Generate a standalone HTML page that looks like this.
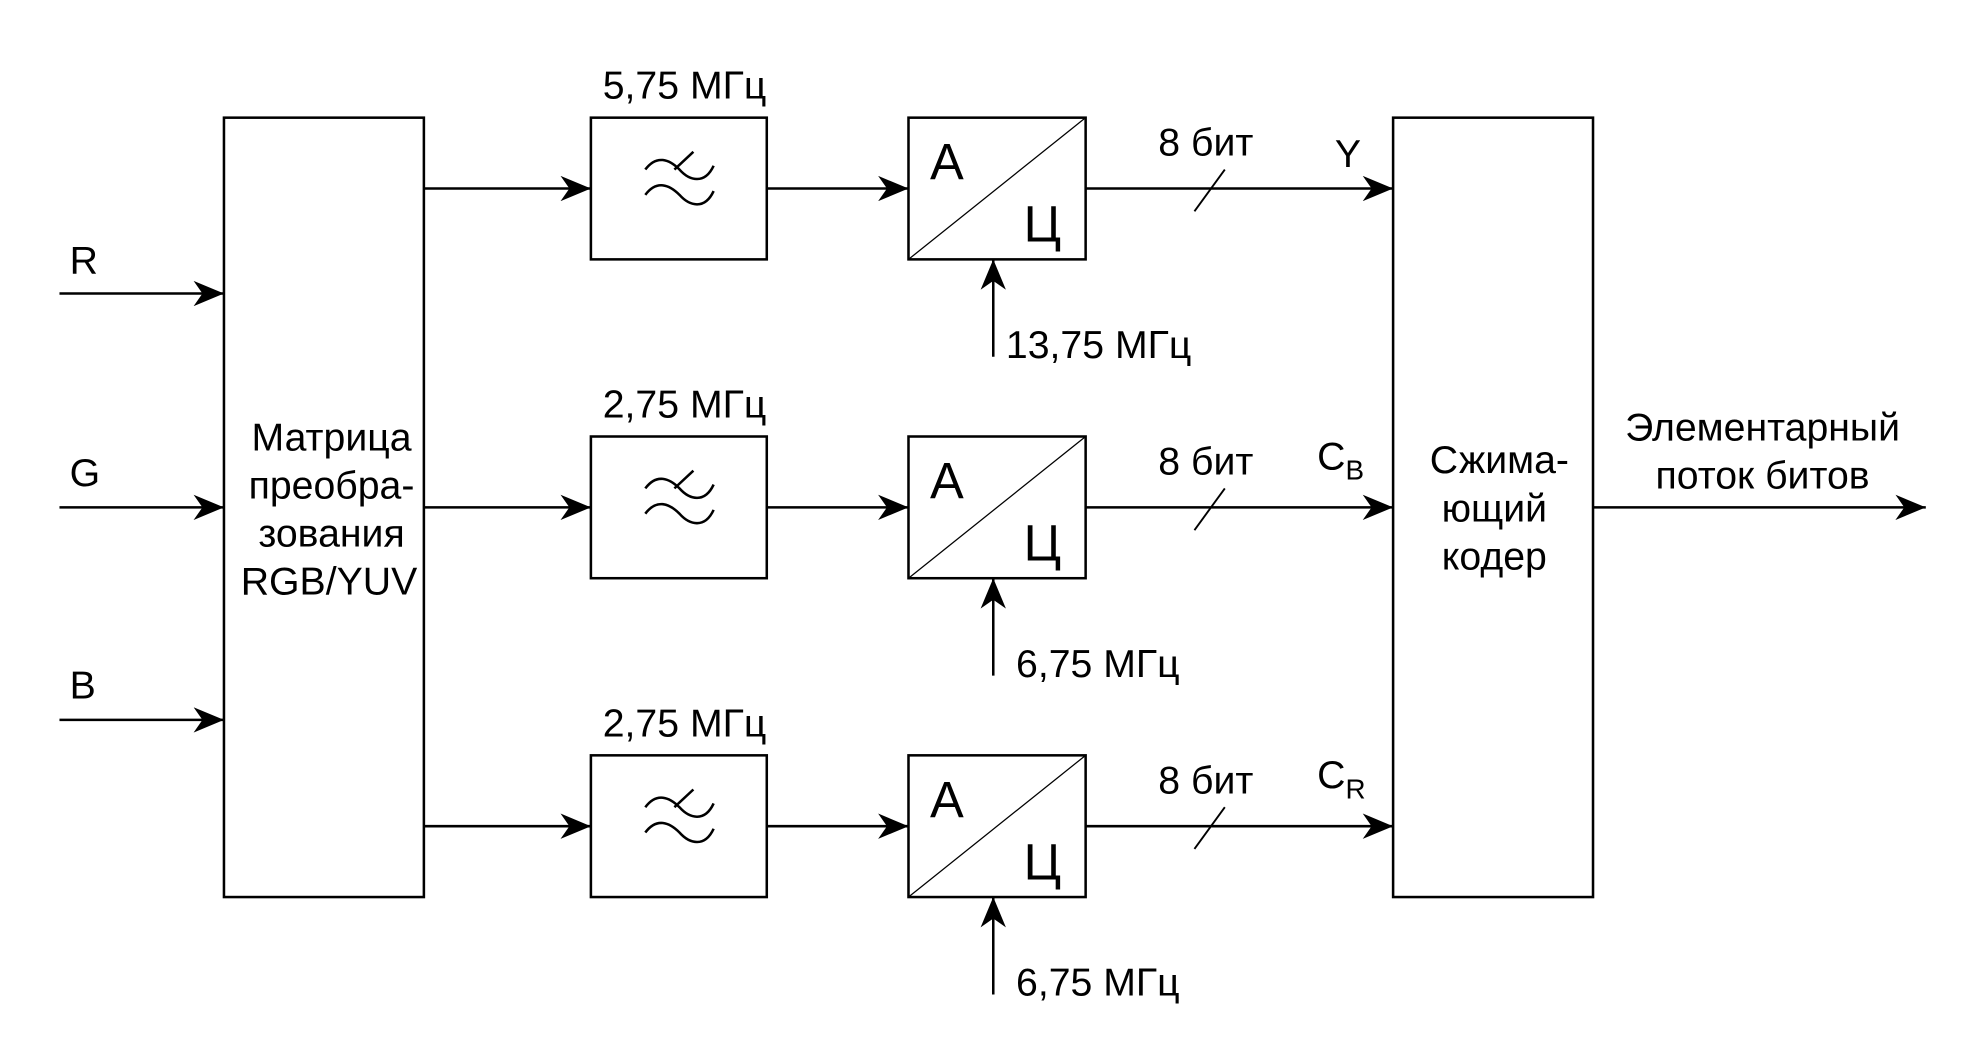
<!DOCTYPE html>
<html><head><meta charset="utf-8"><style>
html,body{margin:0;padding:0;background:#fff;}
svg{display:block;}
text{font-family:"Liberation Sans",Arial,sans-serif;fill:#000;}
</style></head><body>
<svg width="1984" height="1059" viewBox="0 0 1568 837" preserveAspectRatio="none" xmlns="http://www.w3.org/2000/svg">
<defs>
<marker id="a" markerWidth="28" markerHeight="20" refX="24" refY="10" orient="auto" markerUnits="userSpaceOnUse">
<path d="M0,0 L24,10 L0,20 L7,10 Z" fill="#000"/>
</marker>
<g id="tl" fill="none" stroke="#000" stroke-width="2">
<path d="M-27,0 C-18,-12 -8,-8 0,0 C8,9 20,12 27,-3"/>
<path d="M-27,20 C-18,8 -8,12 0,20 C8,29 20,32 27,17"/>
<path d="M-4,0 L11,-14"/>
</g>
</defs>
<g fill="none" stroke="#000" stroke-width="2">
<rect x="177" y="93" width="158" height="616"/>
<rect x="1101" y="93" width="158" height="616"/>
<rect x="467" y="93" width="139" height="112"/>
<rect x="467" y="345" width="139" height="112"/>
<rect x="467" y="597" width="139" height="112"/>
<rect x="718" y="93" width="140" height="112"/>
<rect x="718" y="345" width="140" height="112"/>
<rect x="718" y="597" width="140" height="112"/>
</g>
<g stroke="#000" stroke-width="1">
<line x1="718" y1="205" x2="858" y2="93"/>
<line x1="718" y1="457" x2="858" y2="345"/>
<line x1="718" y1="709" x2="858" y2="597"/>
</g>
<g stroke="#000" stroke-width="2" marker-end="url(#a)">
<line x1="47" y1="232" x2="177" y2="232"/>
<line x1="47" y1="401" x2="177" y2="401"/>
<line x1="47" y1="569" x2="177" y2="569"/>
<line x1="335" y1="149" x2="467" y2="149"/>
<line x1="335" y1="401" x2="467" y2="401"/>
<line x1="335" y1="653" x2="467" y2="653"/>
<line x1="606" y1="149" x2="718" y2="149"/>
<line x1="606" y1="401" x2="718" y2="401"/>
<line x1="606" y1="653" x2="718" y2="653"/>
<line x1="858" y1="149" x2="1101" y2="149"/>
<line x1="858" y1="401" x2="1101" y2="401"/>
<line x1="858" y1="653" x2="1101" y2="653"/>
<line x1="1259" y1="401" x2="1522" y2="401"/>
<line x1="785" y1="282" x2="785" y2="205"/>
<line x1="785" y1="534" x2="785" y2="457"/>
<line x1="785" y1="786" x2="785" y2="709"/>
</g>
<g stroke="#000" stroke-width="1.5">
<line x1="944" y1="167" x2="968" y2="134"/>
<line x1="944" y1="419" x2="968" y2="386"/>
<line x1="944" y1="671" x2="968" y2="638"/>
</g>
<use href="#tl" x="537" y="134"/>
<use href="#tl" x="537" y="386"/>
<use href="#tl" x="537" y="638"/>
<g font-size="31">
<text x="55" y="216">R</text>
<text x="55" y="384">G</text>
<text x="55" y="552">B</text>
<g text-anchor="middle">
<text x="262" y="356">Матрица</text>
<text x="262" y="394">преобра-</text>
<text x="262" y="432">зования</text>
<text x="260" y="470">RGB/YUV</text>
<text x="541" y="78">5,75 МГц</text>
<text x="541" y="330">2,75 МГц</text>
<text x="541" y="582">2,75 МГц</text>
<text x="953" y="123">8 бит</text>
<text x="953" y="375">8 бит</text>
<text x="953" y="627">8 бит</text>
<text x="1185" y="374">Сжима-</text>
<text x="1181" y="412">ющий</text>
<text x="1181" y="450">кодер</text>
<text x="1393" y="348">Элементарный</text>
<text x="1393" y="386">поток битов</text>
</g>
<text x="795" y="283">13,75 МГц</text>
<text x="803" y="535">6,75 МГц</text>
<text x="803" y="787">6,75 МГц</text>
<text x="1055" y="132">Y</text>
<text x="1041" y="371">C<tspan font-size="22" dy="8">B</tspan></text>
<text x="1041" y="623">C<tspan font-size="22" dy="8">R</tspan></text>
</g>
<g font-size="40">
<text x="735" y="142">А</text><text x="809" y="191">Ц</text>
<text x="735" y="394">А</text><text x="809" y="443">Ц</text>
<text x="735" y="646">А</text><text x="809" y="695">Ц</text>
</g>
</svg>
</body></html>
